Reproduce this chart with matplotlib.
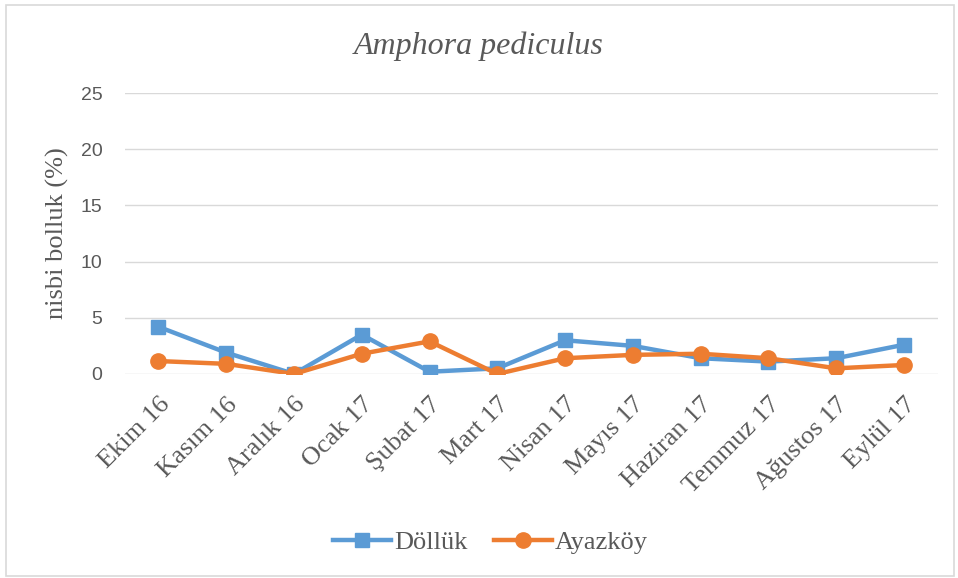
import matplotlib.pyplot as plt
from matplotlib.patches import Rectangle

months = ['Ekim 16', 'Kasım 16', 'Aralık 16', 'Ocak 17', 'Şubat 17', 'Mart 17',
          'Nisan 17', 'Mayıs 17', 'Haziran 17', 'Temmuz 17', 'Ağustos 17', 'Eylül 17']
dolluk = [4.2, 1.9, 0.0, 3.5, 0.2, 0.5, 3.0, 2.5, 1.4, 1.1, 1.4, 2.6]
ayazkoy = [1.15, 0.9, 0.0, 1.8, 2.9, 0.0, 1.4, 1.7, 1.8, 1.4, 0.5, 0.8]

blue = '#5b9bd5'
orange = '#ed7d31'
gray = '#595959'
serif = ['Liberation Serif', 'DejaVu Serif']

fig = plt.figure(figsize=(9.58, 5.78), dpi=100)
ax = fig.add_axes([0.130, 0.353, 0.849, 0.486])

x = range(len(months))
ax.plot(x, dolluk, color=blue, lw=3.2, marker='s', ms=10, label='Döllük')
ax.plot(x, ayazkoy, color=orange, lw=3.2, marker='o', ms=11, label='Ayazköy')

ax.set_ylim(0, 25)
ax.set_yticks([0, 5, 10, 15, 20, 25])
ax.set_xlim(-0.5, len(months) - 0.5)
ax.set_xticks(list(x))
ax.set_xticklabels(months, rotation=45, ha='right', rotation_mode='anchor',
                   family=serif, fontsize=19, color=gray)
ax.tick_params(axis='x', length=0, pad=14)
ax.tick_params(axis='y', length=0, pad=16, labelsize=14, labelcolor=gray)
for lab in ax.get_yticklabels():
    lab.set_family(['Liberation Sans', 'DejaVu Sans'])

ax.grid(axis='y', color='#d9d9d9', lw=1)
ax.set_axisbelow(True)
for s in ax.spines.values():
    s.set_visible(False)

ax.set_ylabel('nisbi bolluk (%)', family=serif, fontsize=19, color=gray, labelpad=8)
fig.text(0.5, 0.92, 'Amphora pediculus', ha='center', va='center',
         family=serif, style='italic', fontsize=23, color=gray)

fig.legend(loc='center', bbox_to_anchor=(0.512, 0.062), ncol=2, frameon=False,
           prop={'family': serif, 'size': 19}, handlelength=2.2, columnspacing=1.0,
           labelcolor=gray, handletextpad=0.1)

fig.patches.append(Rectangle((0.006, 0.003), 0.99, 0.988, transform=fig.transFigure,
                             fill=False, edgecolor='#d9d9d9', lw=1.2))

fig.savefig('out.png', dpi=100)
